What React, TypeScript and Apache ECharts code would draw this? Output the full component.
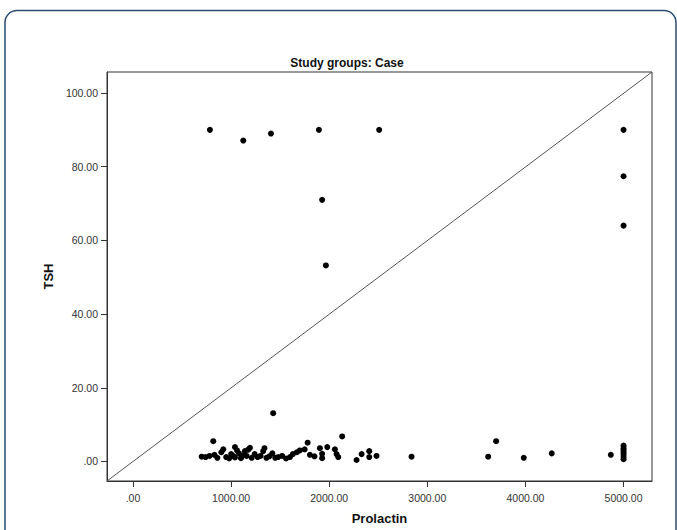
import React, { useEffect, useRef } from "react";
import * as echarts from "echarts";

const titleText = "Study groups: Case";
const xName = "Prolactin";
const yName = "TSH";

const xTicks = [0, 1000, 2000, 3000, 4000, 5000];
const yTicks = [0, 20, 40, 60, 80, 100];
const xRange = [-265, 5290];
const yRange = [-5.3, 105.7];

// [Prolactin, TSH]
const highPoints: number[][] = [
  [784, 90.0], [1124, 87.1], [1406, 89.0], [1895, 90.0], [2509, 90.0],
  [1928, 71.0], [1966, 53.2], [5000, 90.0], [5000, 77.4], [5000, 64.0],
  [1429, 13.1],
];

const lowPoints: number[][] = [
  [700, 1.3], [740, 1.2], [780, 1.5], [818, 5.5], [830, 1.8], [860, 1.0],
  [900, 2.5], [920, 3.3], [950, 1.2], [980, 0.8], [1000, 2.0], [1020, 1.5],
  [1039, 3.9], [1039, 1.1], [1060, 3.0], [1080, 2.2], [1100, 0.9], [1120, 1.6],
  [1140, 2.8], [1158, 1.5], [1175, 3.2], [1192, 3.7], [1210, 1.0], [1240, 2.0],
  [1270, 1.2], [1300, 1.5], [1327, 2.8], [1340, 3.6], [1360, 1.0], [1390, 1.4],
  [1420, 2.2], [1450, 1.0], [1480, 1.2], [1520, 1.5], [1560, 0.8], [1600, 1.2],
  [1630, 2.0], [1670, 2.5], [1700, 3.0], [1750, 3.3], [1780, 5.1], [1803, 1.8],
  [1850, 1.4], [1905, 3.6], [1928, 2.1], [1928, 0.9], [1980, 3.9], [2058, 3.3],
  [2075, 2.0], [2092, 1.2], [2132, 6.8], [2279, 0.4], [2330, 2.0], [2408, 2.8],
  [2408, 1.2], [2482, 1.5], [2839, 1.3], [3620, 1.3], [3701, 5.5], [3983, 1.0],
  [4268, 2.2], [4870, 1.8], [5000, 0.6], [5000, 1.2], [5000, 1.8], [5000, 2.4],
  [5000, 3.0], [5000, 3.6], [5000, 4.3],
];

const fmt = (v: number) => (v === 0 ? ".00" : v.toFixed(2));

export default function App() {
  const ref = useRef<HTMLDivElement>(null);
  useEffect(() => {
    if (!ref.current) return;
    const chart = echarts.init(ref.current, null, { renderer: "svg" });
    const axisCommon = {
      axisLine: { show: true, onZero: false, lineStyle: { color: "#333", width: 1 } },
      axisTick: { show: true, length: 6, lineStyle: { color: "#333" } },
      splitLine: { show: false },
      nameTextStyle: {
        fontFamily: "Liberation Sans, Arial, sans-serif",
        fontWeight: "bold",
        fontSize: 13,
        color: "#111",
      },
    };
    chart.setOption({
      animation: false,
      backgroundColor: "#fff",
      title: {
        text: titleText,
        left: 342,
        textAlign: "center",
        top: 52,
        textStyle: {
          fontFamily: "Liberation Sans, Arial, sans-serif",
          fontWeight: "bold",
          fontSize: 12,
          color: "#111",
        },
      },
      graphic: [
        {
          type: "rect",
          shape: { x: 5, y: 10.5, width: 671, height: 580, r: 12 },
          style: { fill: "none", stroke: "#2d4b70", lineWidth: 1.5 },
          silent: true,
        },
      ],
      grid: {
        left: 107,
        top: 72,
        width: 545,
        height: 415,
        show: true,
        borderColor: "#333",
        borderWidth: 1,
        backgroundColor: "transparent",
      },
      xAxis: {
        type: "value",
        min: xRange[0],
        max: xRange[1],
        name: xName,
        nameLocation: "middle",
        nameGap: 31,
        ...axisCommon,
        axisTick: { ...axisCommon.axisTick, customValues: xTicks },
        axisLabel: {
          customValues: xTicks,
          formatter: fmt,
          margin: 11,
          fontFamily: "Liberation Sans, Arial, sans-serif",
          fontSize: 10.5,
          color: "#333",
        },
      },
      yAxis: {
        type: "value",
        min: yRange[0],
        max: yRange[1],
        name: yName,
        nameLocation: "middle",
        nameGap: 52,
        ...axisCommon,
        axisTick: { ...axisCommon.axisTick, customValues: yTicks },
        axisLabel: {
          customValues: yTicks,
          formatter: fmt,
          margin: 9,
          fontFamily: "Liberation Sans, Arial, sans-serif",
          fontSize: 10.5,
          color: "#333",
        },
      },
      series: [
        {
          type: "line",
          data: [
            [xRange[0], yRange[0]],
            [xRange[1], yRange[1]],
          ],
          symbol: "none",
          lineStyle: { color: "#555", width: 1 },
          silent: true,
          z: 1,
        },
        {
          type: "scatter",
          data: [...highPoints, ...lowPoints],
          symbol: "circle",
          symbolSize: 6,
          itemStyle: { color: "#000", opacity: 1 },
          z: 3,
        },
      ],
    });
    return () => chart.dispose();
  }, []);
  return (
    <div
      ref={ref}
      style={{ position: "fixed", left: 0, top: 0, width: 677, height: 530 }}
    />
  );
}
